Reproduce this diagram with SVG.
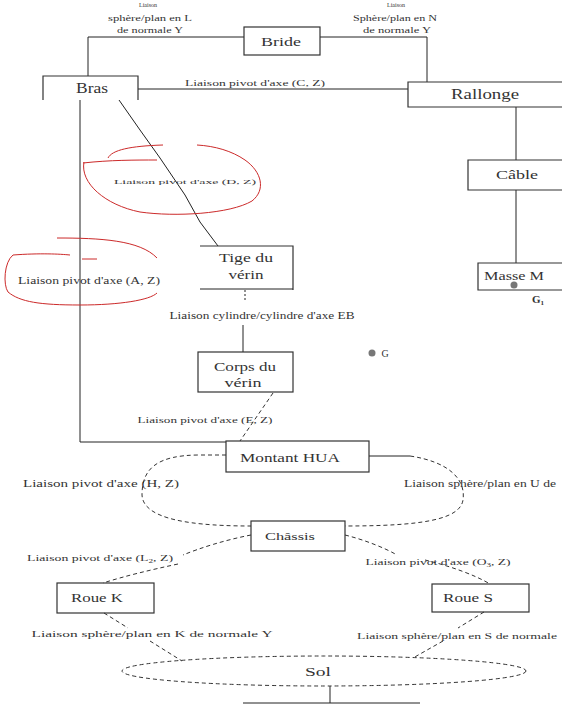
<svg xmlns="http://www.w3.org/2000/svg" width="562" height="706" viewBox="0 0 562 706">
<style>
.t{font-family:"Liberation Serif","Times New Roman",serif;fill:#333;text-anchor:middle}
.ln{fill:none;stroke:#222;stroke-width:1}
.dash{fill:none;stroke:#333;stroke-width:1;stroke-dasharray:4 3}
.box{fill:none;stroke:#333;stroke-width:1.2}
.red{fill:none;stroke:#cc2a2a;stroke-width:1}
</style>
<rect width="562" height="706" fill="#fff"/>
<g id="connectors">
  <path class="ln" d="M88 76 V37 H244"/>
  <path class="ln" d="M320 37 H427 V82"/>
  <path class="ln" d="M138 89 H408"/>
  <path class="ln" d="M516 107 V160"/>
  <path class="ln" d="M516 190 V263"/>
  <path class="ln" d="M80 100 V442 H226"/>
  <path class="ln" d="M119 100 L140 130 L160 158 L185 195 L200 222 L218 246"/>
  <path class="ln" d="M245 290 V302" stroke-dasharray="2 2"/>
  <path class="ln" d="M243 325 V352"/>
  <path class="dash" d="M273 393 L240 441"/>
  <path class="dash" d="M226 455 H200 C155 455 142 470 142 495 C143 515 175 526 251 526"/>
  <path class="ln" d="M369 456 H410"/>
  <path class="dash" d="M410 456 C450 462 466 480 463 500 C460 520 420 526 345 526"/>
  <path class="dash" d="M251 535 C225 540 200 548 183 555"/>
  <path class="dash" d="M178 564 C150 570 125 576 103 583"/>
  <path class="dash" d="M345 535 C365 540 385 548 397 555"/>
  <path class="dash" d="M425 560 C450 566 475 575 490 584"/>
  <path class="dash" d="M104 613 L128 628"/>
  <path class="dash" d="M150 641 L182 661"/>
  <path class="dash" d="M484 612 L458 628"/>
  <path class="dash" d="M443 641 L413 658"/>
  <path class="ln" d="M330 686 V703 M243 703 H420"/>
</g>
<g id="red-marks">
  <path class="red" d="M163 145 C130 146 112 150 108 158"/>
  <path class="red" d="M83 163 C110 160 135 160 157 160"/>
  <path class="red" d="M84 162 C80 183 105 205 140 212 C175 217 230 214 252 201 C266 190 262 172 245 160 C232 151 215 146 197 145"/>
  <path class="red" d="M57 238 C100 238 140 240 157 258"/>
  <path class="red" d="M13 255 C40 253 60 254 70 255 M82 259 H97"/>
  <path class="red" d="M13 255 C4 262 3 285 8 292 C20 302 40 305 80 305 C120 305 150 300 157 293"/>
</g>
<g id="labels">
  <text class="t" x="148" y="7" font-size="6">Liaison</text>
  <text class="t" x="150" y="21" font-size="9" textLength="84" lengthAdjust="spacingAndGlyphs">sphère/plan en L</text>
  <text class="t" x="150" y="33" font-size="9" textLength="66" lengthAdjust="spacingAndGlyphs">de normale Y</text>
  <text class="t" x="396" y="7" font-size="6">Liaison</text>
  <text class="t" x="395" y="21" font-size="9" textLength="84" lengthAdjust="spacingAndGlyphs">Sphère/plan en N</text>
  <text class="t" x="397" y="33" font-size="9" textLength="68" lengthAdjust="spacingAndGlyphs">de normale Y</text>
  <text class="t" x="255" y="86" font-size="8" textLength="140" lengthAdjust="spacingAndGlyphs">Liaison pivot d'axe (C, Z)</text>
  <text class="t" x="185" y="184" font-size="7" textLength="142" lengthAdjust="spacingAndGlyphs">Liaison pivot d'axe (D, Z)</text>
  <text class="t" x="89" y="284" font-size="10" textLength="142" lengthAdjust="spacingAndGlyphs">Liaison pivot d'axe (A, Z)</text>
  <text class="t" x="262" y="319" font-size="10" textLength="185" lengthAdjust="spacingAndGlyphs">Liaison cylindre/cylindre d'axe EB</text>
  <text class="t" x="205" y="423" font-size="9" textLength="135" lengthAdjust="spacingAndGlyphs">Liaison pivot d'axe (E, Z)</text>
  <text class="t" x="101" y="487" font-size="10" textLength="156" lengthAdjust="spacingAndGlyphs">Liaison pivot d'axe (H, Z)</text>
  <text class="t" x="480" y="487" font-size="10" textLength="152" lengthAdjust="spacingAndGlyphs">Liaison sphère/plan en U de</text>
  <text class="t" x="100" y="561" font-size="9" textLength="146" lengthAdjust="spacingAndGlyphs">Liaison pivot d'axe (L<tspan font-size="6" dy="2">2</tspan><tspan dy="-2">, Z)</tspan></text>
  <text class="t" x="438" y="565" font-size="9" textLength="145" lengthAdjust="spacingAndGlyphs">Liaison pivot d'axe (O<tspan font-size="6" dy="2">3</tspan><tspan dy="-2">, Z)</tspan></text>
  <text class="t" x="152" y="637" font-size="9" textLength="241" lengthAdjust="spacingAndGlyphs">Liaison sphère/plan en K de normale Y</text>
  <text class="t" x="457" y="639" font-size="9" textLength="200" lengthAdjust="spacingAndGlyphs">Liaison sphère/plan en S de normale</text>
  <circle cx="372" cy="353" r="3.5" fill="#777"/>
  <text class="t" x="385" y="357" font-size="10">G</text>
</g>
<g id="bride">
  <rect class="box" x="244" y="27" width="76" height="28"/>
  <text class="t" x="281" y="46" font-size="13" textLength="40" lengthAdjust="spacingAndGlyphs">Bride</text>
</g>
<g id="bras">
  <path class="box" d="M43 100 V76 H138 V100"/>
  <text class="t" x="92" y="93" font-size="14" textLength="32" lengthAdjust="spacingAndGlyphs">Bras</text>
</g>
<g id="rallonge">
  <path class="box" d="M562 82 H408 V107 H562"/>
  <text class="t" x="485" y="99" font-size="14" textLength="68" lengthAdjust="spacingAndGlyphs">Rallonge</text>
</g>
<g id="cable">
  <path class="box" d="M562 160 H468 V190 H562"/>
  <text class="t" x="517" y="179" font-size="12" textLength="42" lengthAdjust="spacingAndGlyphs">Câble</text>
</g>
<g id="masse">
  <path class="box" d="M562 263 H478 V290 H562"/>
  <text class="t" x="514" y="280" font-size="12" textLength="60" lengthAdjust="spacingAndGlyphs">Masse M</text>
  <circle cx="514" cy="285" r="3.5" fill="#777"/>
  <text class="t" x="538" y="303" font-size="11" font-weight="bold">G<tspan font-size="7" dy="2">1</tspan></text>
</g>
<g id="tige">
  <path class="box" d="M200 246 H293 V290"/>
  <path class="ln" d="M200 289 H293" stroke-width="2"/>
  <text class="t" x="246" y="262" font-size="13" textLength="54" lengthAdjust="spacingAndGlyphs">Tige du</text>
  <text class="t" x="246" y="279" font-size="12" textLength="35" lengthAdjust="spacingAndGlyphs">vérin</text>
</g>
<g id="corps">
  <rect class="box" x="198" y="352" width="95" height="40"/>
  <text class="t" x="245" y="371" font-size="13" textLength="62" lengthAdjust="spacingAndGlyphs">Corps du</text>
  <text class="t" x="243" y="387" font-size="12" textLength="37" lengthAdjust="spacingAndGlyphs">vérin</text>
</g>
<g id="montant">
  <rect class="box" x="226" y="441" width="143" height="31"/>
  <text class="t" x="290" y="462" font-size="12" textLength="100" lengthAdjust="spacingAndGlyphs">Montant HUA</text>
</g>
<g id="chassis">
  <rect class="box" x="251" y="521" width="94" height="30"/>
  <text class="t" x="290" y="540" font-size="11" textLength="50" lengthAdjust="spacingAndGlyphs">Châssis</text>
</g>
<g id="roueK">
  <rect class="box" x="57" y="583" width="97" height="30"/>
  <text class="t" x="97" y="602" font-size="13" textLength="52" lengthAdjust="spacingAndGlyphs">Roue K</text>
</g>
<g id="roueS">
  <rect class="box" x="432" y="584" width="97" height="28"/>
  <text class="t" x="468" y="602" font-size="13" textLength="50" lengthAdjust="spacingAndGlyphs">Roue S</text>
</g>
<g id="sol">
  <ellipse class="dash" cx="324" cy="671" rx="202" ry="15"/>
  <text class="t" x="318" y="676" font-size="13" textLength="26" lengthAdjust="spacingAndGlyphs">Sol</text>
</g>
</svg>
